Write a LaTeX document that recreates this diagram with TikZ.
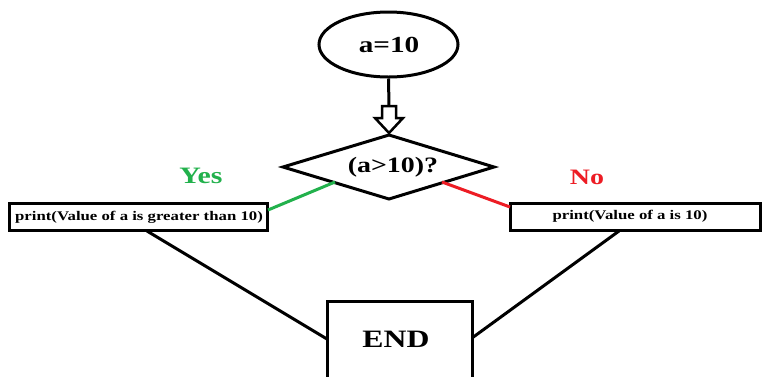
\documentclass[tikz,border=0pt]{standalone}
\usepackage{fontspec}
\setmainfont[FakeStretch=1.27]{Liberation Serif}
\usetikzlibrary{shapes.geometric,calc}
\definecolor{pgreen}{RGB}{34,177,76}
\definecolor{pred}{RGB}{237,28,36}
\begin{document}
\begin{tikzpicture}[x=1pt,y=-1pt,
  line width=3pt,
  lbl/.style={font=\bfseries\fontsize{22}{24}\selectfont, inner sep=0pt},
  boxtxt/.style={font=\bfseries\fontsize{13.2}{14}\selectfont, inner sep=0pt}]
\useasboundingbox[fill=white] (0,0) rectangle (764,376);
% start ellipse
\node[draw, ellipse, minimum width=139pt, minimum height=65pt, inner sep=0pt, line width=3pt] (start) at (388.5,44.5) {};
\node[lbl, font=\bfseries\fontsize{23}{25}\selectfont] (starttxt) at (389,45) {a=10};
% decision
\node[diamond, minimum width=211pt, minimum height=64pt, inner sep=0pt] (dec) at (389,167) {};
\path[draw, line width=3pt] (283,167) coordinate (decL) -- (389,135) coordinate (decT) -- (494,167) coordinate (decR) -- (389,199) coordinate (decB) -- cycle;
\node[lbl] (dectxt) at (393,167) {(a>10)?};
% open arrow
\coordinate (arrtop) at (389,106);
\draw (start.south) -- (arrtop);
\draw[line width=2.5pt, line join=miter] (382,106) -- (396,106) -- (396,118) -- (403,118) -- (389,133) coordinate (arrtip) -- (375,118) -- (382,118) -- cycle;
% boxes
\node[draw, line width=3pt, minimum width=258pt, minimum height=27pt, inner sep=0pt] (yesbox) at (138.5,217) {};
\node[boxtxt] (yestxt) at (139,217) {print(Value of a is greater than 10)};
\node[draw, line width=3pt, minimum width=250pt, minimum height=27pt, inner sep=0pt] (nobox) at (635,217) {};
\node[boxtxt] (notxt) at (630,216) {print(Value of a is 10)};
% end box
\node[draw, line width=3pt, minimum width=145pt, minimum height=100pt, inner sep=0pt, anchor=north] (endbox) at (399.5,300) {};
\node[lbl, font=\bfseries\fontsize{25}{27}\selectfont] (endtxt) at (396,339) {END};
% labels
\node[lbl, font=\bfseries\fontsize{23.5}{25}\selectfont, text=pgreen] (yes) at (201,176) {Yes};
\node[lbl, text=pred] (no) at (587,177) {No};
% connectors
\coordinate (gA) at (268,210);
\coordinate (gB) at (335,182);
\draw[pgreen] (gA) -- (gB);
\coordinate (rA) at (442,182);
\coordinate (rB) at (510,207);
\draw[pred] (rA) -- (rB);
\coordinate (lA) at (147,231);
\coordinate (lB) at (327,339);
\draw (lA) -- (lB);
\coordinate (nA) at (619,231);
\coordinate (nB) at (472,338);
\draw (nA) -- (nB);
\end{tikzpicture}
\end{document}
